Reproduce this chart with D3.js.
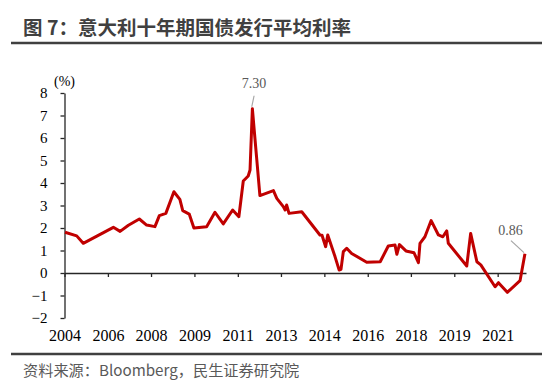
<!DOCTYPE html>
<html>
<head>
<meta charset="utf-8">
<script src="https://cdn.jsdelivr.net/npm/d3@7"></script>
<style>
  body { margin: 0; background: #fff; }
</style>
</head>
<body>
<div id="chart"></div>
<script>
// Italy 10Y government bond average issuance yield (decimal year, %)
const dates = [2004.77, 2005.22, 2005.47, 2006.63, 2006.89, 2007.21, 2007.63, 2007.91, 2008.23, 2008.40,
  2008.65, 2008.96, 2009.19, 2009.30, 2009.55, 2009.73, 2010.22, 2010.54, 2010.86, 2011.22,
  2011.46, 2011.63, 2011.82, 2011.89, 2011.98, 2012.27, 2012.79, 2012.92, 2013.17, 2013.24,
  2013.30, 2013.39, 2013.88, 2014.58, 2014.66, 2014.80, 2014.88, 2015.16, 2015.32, 2015.39,
  2015.48, 2015.61, 2015.80, 2016.38, 2016.90, 2017.21, 2017.47, 2017.54, 2017.64, 2017.89,
  2018.20, 2018.37, 2018.43, 2018.62, 2018.86, 2019.14, 2019.31, 2019.46, 2019.52, 2020.23,
  2020.38, 2020.62, 2020.77, 2021.32, 2021.45, 2021.79, 2022.28, 2022.47];
const yields = [1.81, 1.65, 1.32, 2.03, 1.85, 2.12, 2.40, 2.13, 2.06, 2.55,
  2.65, 3.61, 3.27, 2.77, 2.62, 2.00, 2.06, 2.70, 2.18, 2.80,
  2.50, 4.09, 4.31, 4.58, 7.30, 3.44, 3.66, 3.32, 2.95, 2.80,
  3.02, 2.65, 2.72, 1.69, 1.68, 1.17, 1.69, 0.73, 0.13, 0.16,
  0.95, 1.10, 0.87, 0.48, 0.50, 1.20, 1.24, 0.83, 1.26, 0.98,
  0.90, 0.46, 1.32, 1.61, 2.33, 1.69, 1.61, 1.87, 1.32, 0.31,
  1.76, 0.50, 0.36, -0.61, -0.43, -0.86, -0.34, 0.86];

const xTickValues = [2004.75, 2006.42, 2008.08, 2009.75, 2011.42, 2013.08, 2014.75, 2016.42, 2018.08, 2019.75, 2021.42];
const xTickLabels = ["2004", "2006", "2008", "2009", "2011", "2013", "2014", "2016", "2018", "2019", "2021"];
const yTicks = [-2, -1, 0, 1, 2, 3, 4, 5, 6, 7, 8];

const title = "图 7：意大利十年期国债发行平均利率";
const source = "资料来源：Bloomberg，民生证券研究院";
const unit = "(%)";

const width = 550, height = 384;
const data = dates.map((d, i) => ({ date: d, value: yields[i] }));

const svg = d3.select("#chart").append("svg")
  .attr("width", width)
  .attr("height", height)
  .style("font-family", "'Liberation Serif', 'Times New Roman', serif");

// header / footer
svg.append("text")
  .attr("x", 23).attr("y", 35)
  .style("font-family", "'Noto Sans CJK SC', sans-serif")
  .style("font-size", "19.5px")
  .style("font-weight", "bold")
  .style("fill", "#404040")
  .text(title);

svg.append("line")
  .attr("x1", 11).attr("x2", 542).attr("y1", 43).attr("y2", 43)
  .attr("stroke", "#404040").attr("stroke-width", 2.7);

svg.append("line")
  .attr("x1", 11).attr("x2", 542).attr("y1", 354).attr("y2", 354)
  .attr("stroke", "#404040").attr("stroke-width", 2.7);

svg.append("text")
  .attr("x", 23).attr("y", 376)
  .style("font-family", "'Noto Sans CJK SC', sans-serif")
  .style("font-size", "15.2px")
  .style("fill", "#595959")
  .text(source);

// scales
const x = d3.scaleLinear().domain([2004.75, 2022.51]).range([64.5, 526]);
const y = d3.scaleLinear().domain([-2, 8]).range([318, 93]);

// y axis
const yAxis = svg.append("g")
  .attr("transform", `translate(${x.range()[0]},0)`)
  .call(d3.axisLeft(y).tickValues(yTicks).tickSize(4).tickSizeOuter(0).tickPadding(13));
yAxis.selectAll("path, line").attr("stroke", "#262626").attr("stroke-width", 1.3);
yAxis.selectAll("text")
  .style("font-family", "'Liberation Serif', serif")
  .style("font-size", "15px")
  .style("fill", "#000");

// zero line with ticks
const zeroAxis = svg.append("g")
  .attr("transform", `translate(0,${y(0)})`)
  .call(d3.axisBottom(x).tickValues(xTickValues).tickSize(4).tickSizeOuter(0).tickFormat(""));
zeroAxis.selectAll("path, line").attr("stroke", "#262626").attr("stroke-width", 1.3);

// x labels at the bottom
const labelAxis = svg.append("g")
  .attr("transform", `translate(0,${y(-2)})`)
  .call(d3.axisBottom(x).tickValues(xTickValues).tickSize(0).tickPadding(12)
    .tickFormat((d, i) => xTickLabels[i]));
labelAxis.select(".domain").remove();
labelAxis.selectAll("text")
  .style("font-family", "'Liberation Serif', serif")
  .style("font-size", "16px")
  .style("fill", "#000");

// unit
svg.append("text")
  .attr("x", x.range()[0]).attr("y", 86)
  .attr("text-anchor", "middle")
  .style("font-size", "14px")
  .style("fill", "#000")
  .text(unit);

// line
const line = d3.line().x(d => x(d.date)).y(d => y(d.value));
svg.append("path")
  .datum(data)
  .attr("fill", "none")
  .attr("stroke", "#c00000")
  .attr("stroke-width", 3)
  .attr("stroke-linejoin", "round")
  .attr("d", line);

// annotations
const peak = data.reduce((a, b) => (b.value > a.value ? b : a));
const last = data[data.length - 1];

function annotate(p, dx, dy, lx1, ly1, lx2, ly2) {
  const px = x(p.date), py = y(p.value);
  svg.append("line")
    .attr("x1", px + lx1).attr("y1", py + ly1)
    .attr("x2", px + lx2).attr("y2", py + ly2)
    .attr("stroke", "#a6a6a6").attr("stroke-width", 1.2);
  svg.append("text")
    .attr("x", px + dx).attr("y", py + dy)
    .attr("text-anchor", "middle")
    .style("font-size", "14px")
    .style("fill", "#595959")
    .text(p.value.toFixed(2));
}
annotate(peak, 1.7, -21, 1.7, -13, -0.6, -2);
annotate(last, -14.5, -19, -14, -13, -1, -1);
</script>
</body>
</html>
